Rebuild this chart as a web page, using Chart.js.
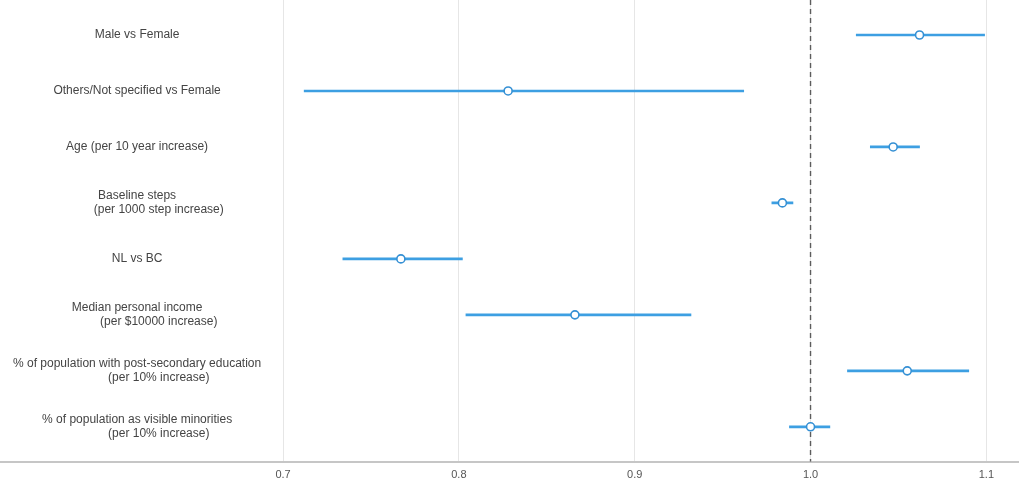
<!DOCTYPE html>
<html>
<head>
<meta charset="utf-8">
<script src="https://cdn.jsdelivr.net/npm/chart.js@4"></script>
<style>
  body { margin: 0; background: #fff; }
  #wrap { width: 1021px; height: 489px; position: relative; }
</style>
</head>
<body>
<div id="wrap"><canvas id="forest"></canvas></div>
<script>
// Forest plot: odds ratios with confidence intervals

// Row labels (top to bottom); second lines carry leading spaces like the original
const rowLabels = [
    'Male vs Female',
    'Others/Not specified vs Female',
    'Age (per 10 year increase)',
    ['Baseline steps', '             (per 1000 step increase)'],
    'NL vs BC',
    ['Median personal income', '             (per $10000 increase)'],
    ['% of population with post-secondary education', '             (per 10% increase)'],
    ['% of population as visible minorities', '             (per 10% increase)']
];

const estimates = [1.062, 0.828, 1.047, 0.984, 0.767, 0.866, 1.055, 1.000];
const lowerCI   = [1.026, 0.712, 1.034, 0.978, 0.734, 0.804, 1.021, 0.988];
const upperCI   = [1.099, 0.962, 1.062, 0.990, 0.802, 0.932, 1.090, 1.011];

const xTicks = [0.7, 0.8, 0.9, 1.0, 1.1];
const xTickLabels = ['0.7', '0.8', '0.9', '1.0', '1.1'];
const refValue = 1.0;

// axis ranges
const xMin = 0.539, xMax = 1.118;
const yMin = -0.625, yMax = 7.625;

const blue = '#3d9fe2';

const ciData = rowLabels.map((_, i) => ({ x: [lowerCI[i], upperCI[i]], y: i }));
const pointData = rowLabels.map((_, i) => ({ x: estimates[i], y: i }));
const refData = [{ x: refValue, y: yMin }, { x: refValue, y: yMax }];

// drop the label overhang padding so the plot fills the canvas
const noPad = scale => {
    scale.paddingLeft = 0;
    scale.paddingRight = 0;
    scale.paddingTop = 0;
    scale.paddingBottom = 0;
};

new Chart(document.getElementById('forest'), {
    type: 'scatter',
    data: {
        datasets: [
            {
                type: 'scatter',
                data: pointData,
                pointRadius: 4,
                pointBorderWidth: 1.6,
                pointBackgroundColor: '#ffffff',
                pointBorderColor: '#3590d4',
                order: 0
            },
            {
                type: 'bar',
                indexAxis: 'y',
                data: ciData,
                backgroundColor: blue,
                borderWidth: 0,
                barThickness: 2,
                order: 1
            },
            {
                type: 'line',
                data: refData,
                borderColor: '#5c5c5c',
                borderWidth: 1.4,
                borderDash: [5, 4],
                pointRadius: 0,
                order: 2
            }
        ]
    },
    options: {
        responsive: true,
        maintainAspectRatio: false,
        animation: false,
        layout: { autoPadding: false, padding: { left: 0, right: 3, top: 0, bottom: 0 } },
        plugins: {
            legend: { display: false },
            tooltip: { enabled: false }
        },
        scales: {
            x: {
                type: 'linear',
                min: xMin,
                max: xMax,
                afterBuildTicks: scale => {
                    scale.ticks = xTicks.map(v => ({ value: v }));
                },
                afterFit: noPad,
                ticks: {
                    autoSkip: false,
                    maxRotation: 0,
                    padding: 7,
                    color: '#555',
                    font: { family: '"Liberation Sans", Arial, sans-serif', size: 11 },
                    callback: (v, i) => xTickLabels[i]
                },
                grid: { color: '#e6e6e6', lineWidth: 1, drawTicks: false },
                border: { color: '#c6c6c6', width: 2 }
            },
            y: {
                type: 'linear',
                reverse: true,
                offset: false,
                min: yMin,
                max: yMax,
                afterBuildTicks: scale => {
                    scale.ticks = rowLabels.map((_, i) => ({ value: i }));
                },
                afterFit: scale => {
                    scale.width = 0;
                    noPad(scale);
                },
                ticks: {
                    mirror: true,
                    crossAlign: 'center',
                    padding: 13,
                    autoSkip: false,
                    color: '#444',
                    font: { family: '"Liberation Sans", Arial, sans-serif', size: 12, lineHeight: 1.2 },
                    callback: v => rowLabels[v]
                },
                grid: { display: false, drawTicks: false, offset: false },
                border: { display: false }
            }
        }
    }
});
</script>
</body>
</html>
